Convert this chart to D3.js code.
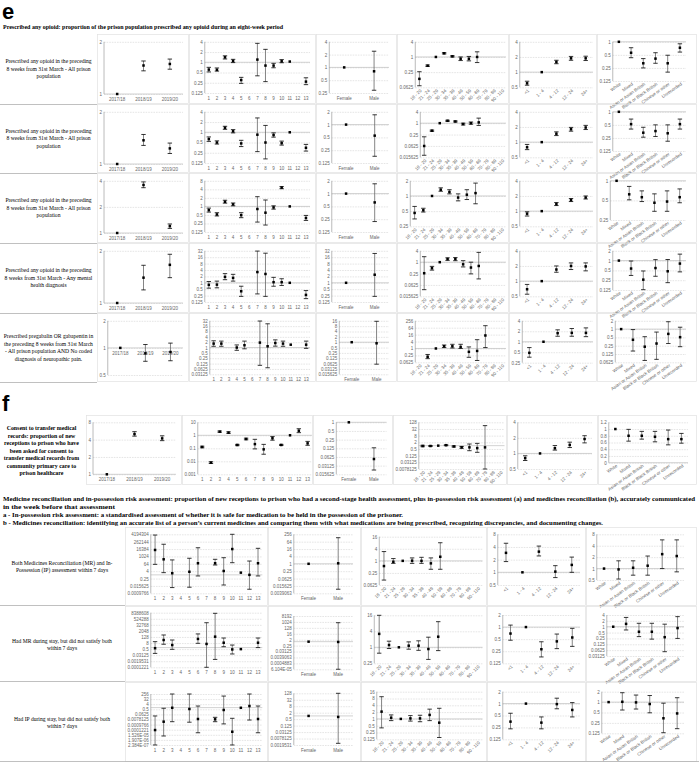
<!DOCTYPE html>
<html><head><meta charset="utf-8">
<script src="https://cdn.jsdelivr.net/npm/d3@7"></script>
<style>body{margin:0;background:#fff}svg{display:block}</style>
</head><body><svg id="c" width="699" height="763"></svg>
<script>
// ---------------- categories ----------------
const yearCats = ["2017/18","2018/19","2019/20"];
const regionCats = ["1","2","3","4","5","6","7","8","9","10","11","12","13"];
const sexCats = ["Female","Male"];
const ageCats = ["18 - 20","21 - 24","25 - 29","30 - 34","35 - 39","40 - 49","50 - 59","60 - 69","70 - 79","80 - 89","90 - 110"];
const imdCats = ["<1","1 - 4","4 - 12","12 - 24","24+"];
const ethCats = ["White","Mixed","Asian or Asian British","Black or Black British","Chinese or other","Unrecorded"];

// ---------------- section e : values [estimate, lower, upper] ----------------
const e1Year = [[1],[1.46,1.36,1.55],[1.49,1.39,1.59]];
const e1YearT = [1,2];
const e1Region = [[0.61,0.52,0.71],[0.6,0.55,0.68],[1.4,1.25,1.55],[1.1,0.98,1.22],[0.3,0.24,0.36],null,[1.2,0.4,3.6],[0.8,0.27,2.4],[0.8,0.69,0.93],[1.07,0.97,1.2],[1.05],null,[0.27,0.22,0.35]];
const e1RegionT = [0.125,0.25,0.5,1,2,4];
const e1Sex = [[1],[0.81,0.29,2.4]];
const e1SexT = [0.25,0.5,1,2,4];
const e1Age = [[0.135,0.072,0.26],[0.45,0.42,0.48],[1],[1.4,1.32,1.48],[1.06,1.0,1.12],[0.85,0.72,1.0],[0.85,0.7,1.05],[1.0,0.6,1.6],null,null,null];
const e1AgeT = [0.0625,0.25,1,4];
const e1Imd = [[0.6,0.55,0.66],[1],[1.59,1.47,1.72],[1.88,1.72,2.05],[1.88,1.7,2.07]];
const e1ImdT = [0.5,1,2,4];
const e1Eth = [[1],[0.56,0.43,0.73],[0.32,0.25,0.41],[0.41,0.32,0.56],[0.32,0.2,0.49],[0.73,0.58,0.9]];
const e1EthT = [0.125,0.25,0.5,1];

const e2Year = [[1],[1.37,1.28,1.48],[1.23,1.15,1.32]];
const e2YearT = [1,2];
const e2Region = [[0.63,0.54,0.73],[0.5,0.45,0.56],[1.36,1.22,1.5],[1.07,0.96,1.2],[0.47,0.38,0.58],null,[0.85,0.27,2.64],[0.5,0.165,1.59],[0.83,0.72,0.96],[0.48,0.42,0.55],[1],null,[0.35,0.28,0.44]];
const e2RegionT = [0.125,0.25,0.5,1,2,4];
const e2Sex = [[1],[0.55,0.18,1.7]];
const e2SexT = [0.125,0.25,0.5,1,2];
const e2Age = [[0.062,0.02,0.19],[0.4,0.37,0.43],[1],[1.34,1.25,1.43],[1.23,1.15,1.32],[0.9,0.8,1.0],[1.0,0.88,1.15],[1.1,0.76,1.85],null,null,null];
const e2AgeT = [0.015625,0.0625,0.25,1,4];
const e2Imd = [[0.79,0.71,0.9],[1],[1.47,1.35,1.6],[1.8,1.65,1.96],[1.95,1.78,2.15]];
const e2ImdT = [0.5,1,2,4];
const e2Eth = [[1],[0.52,0.4,0.68],[0.33,0.26,0.44],[0.36,0.27,0.5],[0.32,0.21,0.5],[0.52,0.4,0.68]];
const e2EthT = [0.125,0.25,0.5,1];

const e3Year = [[1],[3.58,3.33,3.88],[1.2,1.13,1.27]];
const e3YearT = [1,2,4];
const e3Region = [[0.74,0.63,0.87],[0.52,0.46,0.6],[1.46,1.3,1.65],[1.18,1.05,1.32],[0.49,0.4,0.6],null,[0.81,0.28,2.2],[0.6,0.22,1.68],[0.92,0.8,1.05],[4.6,4.2,5.0],[1],null,[0.39,0.32,0.48]];
const e3RegionT = [0.125,0.25,0.5,1,2,4,8];
const e3Sex = [[1],[0.62,0.22,1.7]];
const e3SexT = [0.125,0.25,0.5,1,2];
const e3Age = [[0.46,0.35,0.62],[0.52,0.48,0.57],[1],[1.33,1.24,1.45],[1.2,1.1,1.33],[0.93,0.8,1.1],[1.06,0.85,1.33],[1.14,0.7,1.8],null,null,null];
const e3AgeT = [0.25,0.5,1,2];
const e3Imd = [[0.89,0.8,0.97],[1],[1.38,1.29,1.48],[1.66,1.55,1.78],[1.86,1.74,2.0]];
const e3ImdT = [0.5,1,2,4];
const e3Eth = [[1],[0.62,0.51,0.82],[0.56,0.48,0.7],[0.46,0.34,0.63],[0.48,0.34,0.7],[0.56,0.46,0.75]];
const e3EthT = [0.25,0.5,1];

const e4Year = [[1],[1.4,1.19,1.65],[1.66,1.4,1.91]];
const e4YearT = [1,2];
const e4Region = [[0.8,0.56,1.15],[0.82,0.58,1.2],[1.9,1.4,2.7],[1.7,1.2,2.5],[0.4,0.23,0.69],null,[3.2,0.3,31],[2.6,0.23,24.7],[1.07,0.69,1.8],[1.07,0.75,1.55],[1],null,[0.27,0.18,0.43]];
const e4RegionT = [0.125,0.25,0.5,1,2,4,8,16,32];
const e4Sex = [[1],[2.4,0.23,24]];
const e4SexT = [0.125,0.25,0.5,1,2,4,8,16,32];
const e4Age = [[0.26,0.035,1.95],[0.48,0.38,0.6],[1],[1.47,1.25,1.7],[1.47,1.2,1.75],[0.77,0.56,1.2],[0.52,0.24,1.0],[0.63,0.13,3.3],null,null,null];
const e4AgeT = [0.015625,0.0625,0.25,1,4];
const e4Imd = [[0.69,0.55,0.86],[1],[1.7,1.5,2.0],[2.0,1.7,2.3],[1.96,1.6,2.3]];
const e4ImdT = [0.5,1,2,4];
const e4Eth = [[1],[0.57,0.35,0.97],[0.26,0.128,0.48],[0.59,0.33,1.07],[0.47,0.21,1.08],[0.81,0.45,1.58]];
const e4EthT = [0.125,0.25,0.5,1,2];

const e5Year = [[1],[0.87,0.71,1.09],[0.9,0.72,1.13]];
const e5YearT = [0.5,1,2];
const e5Region = [[1.67,1.18,2.4],[1.67,1.18,2.3],null,[1.0,0.7,1.4],[1.35,0.85,2.3],null,[1.9,0.1,31],[1.18,0.073,21.7],[1.8,1.2,2.7],[1.67,1.18,2.3],[1.45],null,[1.45,0.9,2.3]];
const e5RegionT = [0.03125,0.0625,0.125,0.25,0.5,1,2,4,8,16,32];
const e5Sex = [[1],[0.87,0.058,15]];
const e5SexT = [0.015625,0.03125,0.0625,0.125,0.25,0.5,1,2,4,8,16];
const e5Age = [null,[0.19,0.13,0.3],[1],[1.55,1.2,2.0],[1.55,1.1,2.3],[1.36,1.0,2.3],[0.51,0.17,1.36],[0.61,0.09,5.8],[13.5,1.2,96],null,null];
const e5AgeT = [0.0625,0.25,1,4,16,64,256];
const e5Imd = [[0.48,0.36,0.68],[1],[1.76,1.44,2.2],[1.8,1.44,2.4],[1.8,1.4,2.5]];
const e5ImdT = [0.25,0.5,1,2,4];
const e5Eth = [[1],[0.41,0.16,0.96],[0.23,0.073,0.53],[0.3,0.08,0.78],[0.67,0.3,1.85],[0.51,0.23,1.17]];
const e5EthT = [0.0625,0.125,0.25,0.5,1,2];

// ---------------- section f ----------------
const fYear = [[1],[5.0,4.6,5.5],[4.2,3.84,4.66]];
const fYearT = [1,2,4,8];
const fRegion = [[0.126,0.11,0.145],[0.0079,0.0068,0.0092],[1.9,1.7,2.15],[1.6,1.4,1.85],[0.18,0.16,0.2],[0.52,0.45,0.6],[0.21,0.09,0.49],[0.083,0.035,0.2],[0.59,0.42,0.8],[0.18,0.165,0.2],[1],[2.25,1.6,3.2],[0.24,0.17,0.34]];
const fRegionT = [0.001,0.01,0.1,1,10];
const fSex = [[1],[0.053,0.022,0.13]];
const fSexT = [0.015625,0.03125,0.0625,0.125,0.25,0.5,1];
const fAge = [[0.93,0.8,1.08],[0.93,0.85,1.02],[1],[1.1,1.0,1.2],[0.85,0.75,0.95],[0.7,0.58,0.85],[0.7,0.35,1.4],[0.6,0.25,1.6],[0.7,0.0078,64],null,null];
const fAgeT = [0.0078125,0.03125,0.125,0.5,2,8,32,128];
const fImd = [[0.81,0.73,0.9],[1],[1.26,1.16,1.42],[1.46,1.3,1.65],[1.9,1.6,2.2]];
const fImdT = [0.5,1,2,4];
const fEth = [[1],[0.8,0.64,0.99],[0.8,0.7,0.93],[0.77,0.62,0.93],[0.7,0.53,0.97],[0.7,0.58,0.87]];
const fEthT = [0,0.2,0.4,0.6,0.8,1,1.2];

// ---------------- medicines section ----------------
const m1Region = [[11585,52,3180000],[347,2.3,99300],[1.87,0.0084,274],null,[3.2,0.0096,512],[79,0.66,26600],null,[79,41,347],[4.3,0.022,630],[16384,97,5900000],[2.3],[1,0.0045,181],[79,0.66,21600]];
const m1RegionT = [0.0009765625,0.015625,0.25,4,64,1024,16384,262144,4194304];
const m1Sex = [[1],[1.1,0.0084,135]];
const m1SexT = [0.00390625,0.015625,0.0625,0.25,1,4,16,64,256];
const m1Age = [[0.55,0.11,2.9],[0.9,0.75,1.3],[1],[1.02,0.75,1.4],[1.0,0.75,1.5],[0.75,0.38,1.4],[1.6,0.38,8.0],null,null,null,null];
const m1AgeT = [0.0625,0.25,1,4,16];
const m1Imd = [[2.9,1.8,4.9],[1],[3.1,2.45,4.2],[1.04,0.75,1.44],[1.5,1.0,2.3]];
const m1ImdT = [0.5,1,2,4,8];
const m1Eth = [[1],[0.95,0.53,1.6],[1.05,0.67,1.6],[1.19,0.67,2.14],[2.4,1.0,5.7],[2.14,0.82,5.7]];
const m1EthT = [0.5,1,2,4,8];

const m2Region = [[0.76,0.07,15],[32,4.6,315],[3.2,0.45,32],null,null,[52,7,512],[5.3,0.0001,86000],[147,0.0045,6300000],[9.2,1.5,79],[0.43,0.054,3.2],[0.5],null,[9.2,1.0,79]];
const m2RegionT = [0.0001220703125,0.001953125,0.03125,0.5,8,128,2048,32768,524288,8388608];
const m2Sex = [[1],[0.9,0.000062,776]];
const m2SexT = [0.00006103515625,0.00048828125,0.00390625,0.03125,0.25,2,16,128,1024,8192];
const m2Age = [[3.2,0.6,16],[1.22,0.9,1.7],[1],[1.15,0.85,1.6],[1.15,0.77,1.75],[0.86,0.35,2.4],[2.5,0.75,9.2],null,null,null,null];
const m2AgeT = [0.25,1,4,16];
const m2Imd = [[0.69,0.47,1.12],[1],[0.28,0.18,0.43],[0.44,0.29,0.67],[0.55,0.33,0.93]];
const m2ImdT = [0.125,0.25,0.5,1,2];
const m2Eth = [[1],[1.4,0.68,3.0],[0.55,0.31,1.5],[0.55,0.23,1.5],[0.29,0.052,1.35],[0.85,0.25,3.3]];
const m2EthT = [0.03125,0.0625,0.125,0.25,0.5,1,2,4];

const m3Region = [[0.000106,0.00000024,0.033],[0.0032,0.0000094,0.76],[0.93,0.0032,256],null,[0.57,0.0026,256],[0.0096,0.000035,1.9],null,[0.0084,0.0032,0.019],[0.38,0.0013,111],[0.000053,0.00000024,0.0127],[0.93],[1.9,0.0063,256],[0.0096,0.000035,1.9]];
const m3RegionT = [0.0000002384185791015625,0.0000019073486328125,0.0000152587890625,0.0001220703125,0.0009765625,0.0078125,0.0625,0.5,4,32,256];
const m3Sex = [[1],[0.8,0.0028,128]];
const m3SexT = [0.001953125,0.0078125,0.03125,0.125,0.5,2,8,32,128];
const m3Age = [[2.1,0.4,9.6],[1.13,0.84,1.5],[1],[1.05,0.8,1.4],[1.05,0.75,1.45],[1.5,0.84,2.7],[0.68,0.15,2.95],null,null,null,null];
const m3AgeT = [0.125,0.25,0.5,1,2,4,8,16];
const m3Imd = [[0.35,0.23,0.57],[1],[0.33,0.23,0.46],[0.97,0.74,1.37],[0.69,0.46,1.06]];
const m3ImdT = [0.125,0.25,0.5,1,2];
const m3Eth = [[1],[1.02,0.59,1.87],[0.98,0.63,1.6],[0.88,0.49,1.55],[0.34,0.13,0.93],[0.47,0.17,1.34]];
const m3EthT = [0.125,0.25,0.5,1,2];

// ---------------- texts ----------------
const eTitle = "Prescribed any opioid: proportion of the prison population prescribed any opioid during an eight-week period";
const eLabels = [
  ["Prescribed any opioid in the preceding","8 weeks from 31st March - All prison","population"],
  ["Prescribed any opioid in the preceding","8 weeks from 31st March - All prison","population"],
  ["Prescribed any opioid in the preceding","8 weeks from 31st March - All prison","population"],
  ["Prescribed any opioid in the preceding","8 weeks from 31st March - Any mental","health diagnosis"],
  ["Prescribed pregabalin OR gabapentin in","the preceding 8 weeks from 31st March","- All prison population AND No coded","diagnosis of neuropathic pain."]
];
const fLabel = ["Consent to transfer medical","records: proportion of new","receptions to prison who have","been asked for consent to","transfer medical records from","community primary care to","prison healthcare"];
const mText = [
  "Medicine reconciliation and in-possession risk assessment: proportion of new receptions to prison who had a second-stage health assessment, plus in-possession risk assessment (a) and medicines reconciliation (b), accurately communicated",
  "in the week before that assessment",
  "a - In-possession risk assessment: a standardised assessment of whether it is safe for medication to be held in the possession of the prisoner.",
  "b - Medicines reconciliation: identifying an accurate list of a person\u2019s current medicines and comparing them with what medications are being prescribed, recognizing discrepancies, and documenting changes."
];
const mLabels = [
  ["Both Medicines Reconciliation (MR) and In-","Possession (IP) assessment within 7 days"],
  ["Had MR during stay, but did not satisfy both","within 7 days"],
  ["Had IP during stay, but did not satisfy both","within 7 days"]
];

// ---------------- drawing ----------------
const root = d3.select("#c");
const svg = root.append("g").attr("opacity", 0.999);
const SANS = "'Liberation Sans', Arial, sans-serif";
const SERIF = "'Liberation Serif', 'Times New Roman', serif";
const TFS = 4.5;
const TCOL = "#666";

function fmtTick(v){
  if (v === 0) return "0";
  if (v >= 1) return String(+v.toPrecision(12));
  if (v < 1e-4) return v.toExponential(3).toUpperCase().replace(/E([+-])(\d)$/, "E$10$2");
  let s = String(+v.toPrecision(12));
  if (s.length > 9) s = v.toFixed(7);
  return s;
}

const KIND = {
  year:{cats:yearCats, rot:0},
  region:{cats:regionCats, rot:0},
  sex:{cats:sexCats, rot:0},
  age:{cats:ageCats, rot:-45},
  imd:{cats:imdCats, rot:-45},
  eth:{cats:ethCats, rot:-35}
};

function panelBox(x0,y0,x1,y1){
  svg.append("rect").attr("x",x0+0.5).attr("y",y0+0.5).attr("width",x1-x0-1).attr("height",y1-y0-1)
    .attr("fill","none").attr("stroke","#e2e2e2").attr("stroke-width",0.7);
}

function drawPanel(p){
  const k = KIND[p.kind];
  const g = svg.append("g");
  const y = (p.type === "lin" ? d3.scaleLinear() : d3.scaleLog().base(p.type === "log10" ? 10 : 2))
      .domain(d3.extent(p.ticks)).range([p.bottom, p.top]).clamp(true);
  const gridG = g.append("g");
  const ya = g.append("g").call(d3.axisLeft(y).tickValues(p.ticks).tickFormat(fmtTick).tickSize(0).tickPadding(2));
  ya.attr("font-family", SANS).attr("font-size", TFS);
  ya.selectAll("text").attr("fill",TCOL);
  ya.select(".domain").remove();
  let maxW = 0;
  ya.selectAll("text").each(function(){ maxW = Math.max(maxW, this.getComputedTextLength()); });
  const ax = p.x0 + 2.5 + maxW + 2;
  ya.attr("transform", `translate(${ax},0)`);
  const right = p.x1 - p.padR;
  const x = d3.scaleBand().domain(k.cats).range([ax, right]);
  gridG.attr("transform", `translate(${ax},0)`)
    .call(d3.axisLeft(y).tickValues(p.ticks).tickFormat("").tickSize(-(right-ax)));
  gridG.select(".domain").remove();
  gridG.selectAll("line").attr("stroke","#d4d4d4").attr("stroke-width",0.6).attr("stroke-dasharray","1.6,1");
  const yOne = y(p.type === "lin" ? 0 : 1);
  g.append("line").attr("x1",ax).attr("x2",right).attr("y1",yOne).attr("y2",yOne)
    .attr("stroke","#bfbfbf").attr("stroke-width",0.7);
  g.append("line").attr("x1",ax).attr("x2",ax).attr("y1",p.top).attr("y2",p.bottom)
    .attr("stroke","#8c8c8c").attr("stroke-width",0.6);
  const xa = g.append("g").attr("transform", `translate(0,${p.labelsAtOne ? yOne : p.bottom})`)
    .call(d3.axisBottom(x).tickSize(0).tickPadding(3.6));
  xa.select(".domain").remove();
  xa.attr("font-family", SANS).attr("font-size", TFS);
  xa.selectAll("text").attr("fill",TCOL);
  if (k.rot) {
    xa.selectAll("text").attr("y",0).attr("text-anchor","end")
      .attr("transform", `translate(1.5,2.6) rotate(${k.rot})`).attr("dy","0.32em");
  }
  const pts = p.data.map((d,i) => ({d, c:k.cats[i]})).filter(o => o.d);
  const cx = c => x(c) + x.bandwidth()/2;
  const bars = pts.filter(o => o.d.length === 3);
  g.append("g").selectAll("line").data(bars).join("line")
    .attr("x1", o=>cx(o.c)).attr("x2", o=>cx(o.c))
    .attr("y1", o=>y(o.d[1])).attr("y2", o=>y(o.d[2]))
    .attr("stroke","#666").attr("stroke-width",0.8);
  const caps = bars.flatMap(o => [{c:o.c, v:o.d[1]},{c:o.c, v:o.d[2]}]);
  g.append("g").selectAll("line").data(caps).join("line")
    .attr("x1", o=>cx(o.c)-2.2).attr("x2", o=>cx(o.c)+2.2)
    .attr("y1", o=>y(o.v)).attr("y2", o=>y(o.v))
    .attr("stroke","#111").attr("stroke-width",0.85);
  g.append("g").selectAll("rect").data(pts).join("rect")
    .attr("x", o=>cx(o.c)-1.25).attr("y", o=>y(o.d[0])-1.25)
    .attr("width",2.5).attr("height",2.5).attr("fill","#000");
}

function multiline(lines, cx, cy, lh, fs, weight){
  const t = svg.append("text").attr("font-family", SERIF).attr("font-size", fs)
    .attr("font-weight", weight).attr("text-anchor","middle").attr("fill","#000");
  const y0 = cy - (lines.length-1)*lh/2 + fs*0.33;
  lines.forEach((l,i) => t.append("tspan").attr("x",cx).attr("y", y0 + i*lh).text(l));
}

// ---- section e
svg.append("text").attr("x",2).attr("y",19).attr("font-family",SANS).attr("font-weight","bold")
  .attr("font-size",22).text("e");
svg.append("text").attr("x",3).attr("y",29.3).attr("font-family",SERIF).attr("font-weight","bold")
  .attr("font-size",5.7).attr("textLength",280).attr("lengthAdjust","spacingAndGlyphs").text(eTitle);

const E_ROWS = [[34,104],[104,173],[173,243],[243,313],[313,382]];
const E_COLS = {year:[97,189], region:[189,316], sex:[316,397], age:[397,509], imd:[509,597], eth:[597,697]};
const E_PADR = {year:6, region:6, sex:8, age:3, imd:4, eth:11};
const E_BOT = {year:60, region:59, sex:59, age:53.3, imd:53.3, eth:47};
const E_BOT5 = {year:62, region:61.3, sex:61.3, age:49.3, imd:49.7, eth:49.3};
const eRows = [
  {year:[e1Year,e1YearT], region:[e1Region,e1RegionT], sex:[e1Sex,e1SexT], age:[e1Age,e1AgeT], imd:[e1Imd,e1ImdT], eth:[e1Eth,e1EthT]},
  {year:[e2Year,e2YearT], region:[e2Region,e2RegionT], sex:[e2Sex,e2SexT], age:[e2Age,e2AgeT], imd:[e2Imd,e2ImdT], eth:[e2Eth,e2EthT]},
  {year:[e3Year,e3YearT], region:[e3Region,e3RegionT], sex:[e3Sex,e3SexT], age:[e3Age,e3AgeT], imd:[e3Imd,e3ImdT], eth:[e3Eth,e3EthT]},
  {year:[e4Year,e4YearT], region:[e4Region,e4RegionT], sex:[e4Sex,e4SexT], age:[e4Age,e4AgeT], imd:[e4Imd,e4ImdT], eth:[e4Eth,e4EthT]},
  {year:[e5Year,e5YearT], region:[e5Region,e5RegionT], sex:[e5Sex,e5SexT], age:[e5Age,e5AgeT], imd:[e5Imd,e5ImdT], eth:[e5Eth,e5EthT]}
];
eRows.forEach((row, i) => {
  const [t, b] = E_ROWS[i];
  const bot = i === 4 ? E_BOT5 : E_BOT;
  Object.keys(E_COLS).forEach(kind => {
    const [x0, x1] = E_COLS[kind];
    panelBox(x0, t, x1, b);
    drawPanel({kind, x0, x1, padR:E_PADR[kind], top:t+7.8, bottom:t+bot[kind],
      data:row[kind][0], ticks:row[kind][1], type:"log2", labelsAtOne: kind === "year"});
  });
  svg.append("line").attr("x1",0).attr("x2",97).attr("y1",b+0.5).attr("y2",b+0.5)
    .attr("stroke","#b0b0b0").attr("stroke-width",0.8);
  multiline(eLabels[i], 48.5, (t+b)/2, 7.5, 5.6, "normal");
});

// ---- section f
svg.append("text").attr("x",2).attr("y",411).attr("font-family",SANS).attr("font-weight","bold")
  .attr("font-size",22).text("f");
multiline(fLabel, 41.5, 450.8, 7.5, 5.9, "bold");
const F_ROW = [415,485];
const F_COLS = {year:[86,182], region:[182,313], sex:[313,393], age:[393,507], imd:[507,598], eth:[598,697]};
const F_PADR = {year:6, region:1, sex:6.5, age:2.5, imd:6, eth:9};
const F_BOT = {year:59.3, region:59.3, sex:59.3, age:54, imd:54, eth:47.7};
const fRow = {year:[fYear,fYearT,"log2"], region:[fRegion,fRegionT,"log10"], sex:[fSex,fSexT,"log2"],
  age:[fAge,fAgeT,"log2"], imd:[fImd,fImdT,"log2"], eth:[fEth,fEthT,"lin"]};
Object.keys(F_COLS).forEach(kind => {
  const [x0, x1] = F_COLS[kind];
  panelBox(x0, F_ROW[0], x1, F_ROW[1]);
  drawPanel({kind, x0, x1, padR:F_PADR[kind], top:F_ROW[0]+7.3, bottom:F_ROW[0]+F_BOT[kind],
    data:fRow[kind][0], ticks:fRow[kind][1], type:fRow[kind][2], labelsAtOne: kind === "year"});
});

// ---- medicines section
const M_LEN = [692, 112, 400, 600];
const M_BASE = [501.3, 509.1, 516.9, 524.7];
mText.forEach((s,i) => {
  svg.append("text").attr("x",3).attr("y",M_BASE[i]).attr("font-family",SERIF).attr("font-weight","bold")
    .attr("font-size",6.1).attr("textLength",M_LEN[i]).attr("lengthAdjust","spacingAndGlyphs").text(s);
});
const M_ROWS = [[527,606],[606,682],[682,762]];
const M_COLS = {region:[125,268], sex:[268,361], age:[361,487], imd:[487,586], eth:[586,697]};
const M_PADR = {region:5.7, sex:8, age:4.5, imd:6, eth:13};
const M_TB = [
  {region:[534.3,593.3], sex:[534.3,593.3], age:[536.7,585], imd:[534.3,585], eth:[534.3,580]},
  {region:[612.7,667.3], sex:[616,669.3], age:[615.3,663.3], imd:[615,663.3], eth:[615,656]},
  {region:[694,745], sex:[693.3,745], age:[691.7,739.3], imd:[691.7,739.3], eth:[691.7,733.3]}
];
const mRows = [
  {region:[m1Region,m1RegionT], sex:[m1Sex,m1SexT], age:[m1Age,m1AgeT], imd:[m1Imd,m1ImdT], eth:[m1Eth,m1EthT]},
  {region:[m2Region,m2RegionT], sex:[m2Sex,m2SexT], age:[m2Age,m2AgeT], imd:[m2Imd,m2ImdT], eth:[m2Eth,m2EthT]},
  {region:[m3Region,m3RegionT], sex:[m3Sex,m3SexT], age:[m3Age,m3AgeT], imd:[m3Imd,m3ImdT], eth:[m3Eth,m3EthT]}
];
mRows.forEach((row, i) => {
  const [t, b] = M_ROWS[i];
  Object.keys(M_COLS).forEach(kind => {
    const [x0, x1] = M_COLS[kind];
    panelBox(x0, t, x1, b);
    drawPanel({kind, x0, x1, padR:M_PADR[kind], top:M_TB[i][kind][0], bottom:M_TB[i][kind][1],
      data:row[kind][0], ticks:row[kind][1], type:"log2", labelsAtOne:false});
  });
  svg.append("line").attr("x1",0).attr("x2", i === 2 ? 699 : 125).attr("y1",b-0.5).attr("y2",b-0.5)
    .attr("stroke","#b0b0b0").attr("stroke-width",0.8);
  multiline(mLabels[i], 62, (t+b)/2 + 0.5, 7.3, 5.6, "normal");
});
</script></body></html>
